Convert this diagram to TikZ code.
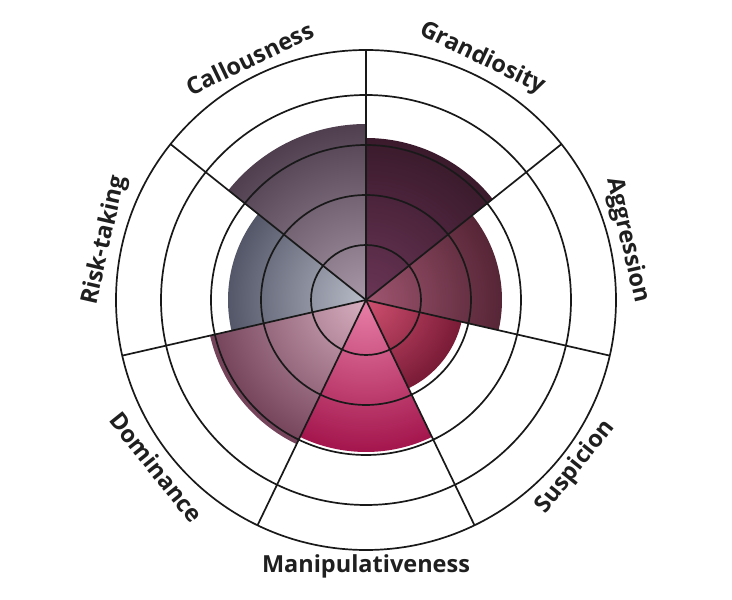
\documentclass[tikz,border=0pt]{standalone}
\usepackage{fontspec}
\setmainfont{Open Sans}
\usetikzlibrary{calc}
\definecolor{gi}{HTML}{6A3556}\definecolor{go}{HTML}{361828}
\definecolor{ai}{HTML}{A05670}\definecolor{ao}{HTML}{4E2030}
\definecolor{si}{HTML}{D05070}\definecolor{so}{HTML}{701530}
\definecolor{mi}{HTML}{E880A8}\definecolor{mo}{HTML}{A01048}
\definecolor{di}{HTML}{D8B0C0}\definecolor{do}{HTML}{6A3850}
\definecolor{ri}{HTML}{B8BCC8}\definecolor{ro}{HTML}{4A4E60}
\definecolor{ki}{HTML}{A898A8}\definecolor{ko}{HTML}{4A3A4A}
\begin{document}
\begin{tikzpicture}[x=1pt,y=1pt,lab/.style={font=\bfseries\fontsize{23.5}{25}\selectfont,text=black!88,inner sep=1pt}]
\useasboundingbox (0,0) rectangle (732,600);
\coordinate (c) at (366,300);
\def\sect#1#2#3#4#5{%
\begin{scope}
\clip (c) -- ++(#1:#2) arc[start angle=#1,end angle=#1-51.4286,radius=#2] -- cycle;
\shade[inner color=#3,outer color=#4] (c) circle (#5);
\end{scope}}
\sect{90}{162}{gi}{go}{175}
\sect{38.5714}{136}{ai}{ao}{150}
\sect{-12.857}{98}{si}{so}{108}
\sect{-64.286}{152}{mi}{mo}{160}
\sect{-115.714}{160}{di}{do}{175}
\sect{-167.143}{138}{ri}{ro}{150}
\sect{141.4286}{176}{ki}{ko}{185}
\foreach \r in {55,105,155,205,250} \draw[line width=1.7pt,black!90] (c) circle (\r);
\foreach \a in {90,38.5714,-12.857,-64.286,-115.714,-167.143,141.4286}
  \draw[line width=1.7pt,black!90] (c) -- ++(\a:250);
\node[lab,rotate=-25.7] (g) at ($(c)+(64.3:268)$) {Grandiosity};
\node[lab,rotate=-77.14] (a) at ($(c)+(12.86:268)$) {Aggression};
\node[lab,rotate=51.4] (s) at ($(c)+(-38.57:268)$) {Suspicion};
\node[lab] (m) at ($(c)+(-90:266)$) {Manipulativeness};
\node[lab,rotate=-51.4] (d) at ($(c)+(-141.43:268)$) {Dominance};
\node[lab,rotate=77.14] (r) at ($(c)+(167.14:268)$) {Risk-taking};
\node[lab,rotate=25.7] (k) at ($(c)+(115.71:268)$) {Callousness};
\end{tikzpicture}
\end{document}
